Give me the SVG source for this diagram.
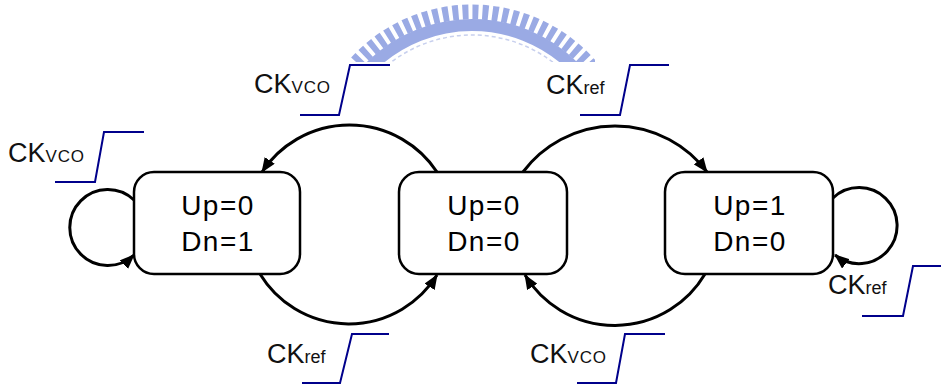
<svg xmlns="http://www.w3.org/2000/svg" width="941" height="385" viewBox="0 0 941 385">
<style>
.box{fill:#fff;stroke:#000;stroke-width:2.5}
.st{font-family:"Liberation Sans",Arial,sans-serif;font-size:28px;fill:#000;text-anchor:middle;letter-spacing:1.5px}
.lb{font-family:"Liberation Sans",Arial,sans-serif;font-size:27px;fill:#111}
.sv{font-size:17px;letter-spacing:0.8px}
.sr{font-size:18px}
.edge{fill:none;stroke:#000;stroke-width:3;marker-end:url(#ah)}
.wave{fill:none;stroke:#00008b;stroke-width:2}
</style>
<defs>
<marker id="ah" markerWidth="16" markerHeight="12" refX="14" refY="6" orient="auto" markerUnits="userSpaceOnUse">
<path d="M0,0 L15,6 L0,12 Z" fill="#000"/>
</marker>
<clipPath id="wm"><rect x="350" y="0" width="245" height="62"/></clipPath>
</defs>
<g id="watermark" clip-path="url(#wm)" fill="none">
<circle cx="472" cy="169" r="157" stroke="#9aaae4" stroke-width="15" stroke-dasharray="6 4"/>
<circle cx="472" cy="169" r="144" stroke="#9aaae4" stroke-width="12"/>
<circle cx="472" cy="169" r="134" stroke="#c8d0ee" stroke-width="1.5" stroke-dasharray="4 3"/>
</g>
<g id="edges">
<path class="edge" d="M437,172 A105,105 0 0 0 262,172"/>
<path class="edge" d="M523,172 A115,115 0 0 1 707,172"/>
<path class="edge" d="M260,274 A104,104 0 0 0 437,275"/>
<path class="edge" d="M705,274 A105,105 0 0 1 525,275"/>
<path class="edge" d="M134,200 A38,38 0 1 0 134,255"/>
<path class="edge" d="M833,198 A38,38 0 1 1 835,255"/>
</g>
<g id="state_up0_dn1">
<rect class="box" x="134" y="172" width="166" height="102" rx="20"/>
<text class="st" x="218" y="215">Up=0</text>
<text class="st" x="218" y="251">Dn=1</text>
</g>
<g id="state_up0_dn0">
<rect class="box" x="399" y="172" width="168" height="102" rx="20"/>
<text class="st" x="484" y="215">Up=0</text>
<text class="st" x="484" y="251">Dn=0</text>
</g>
<g id="state_up1_dn0">
<rect class="box" x="665" y="172" width="168" height="102" rx="20"/>
<text class="st" x="750" y="215">Up=1</text>
<text class="st" x="750" y="251">Dn=0</text>
</g>
<g id="labels">
<text class="lb" x="254" y="93">CK<tspan class="sv">VCO</tspan></text>
<path class="wave" d="M300,115 H339 L350,65 H390"/>
<text class="lb" x="8" y="162">CK<tspan class="sv">VCO</tspan></text>
<path class="wave" d="M55,182 H95 L104,132 H144"/>
<text class="lb" x="546" y="94">CK<tspan class="sr">ref</tspan></text>
<path class="wave" d="M580,115 H620 L630,65 H669"/>
<text class="lb" x="267" y="363">CK<tspan class="sr">ref</tspan></text>
<path class="wave" d="M302,383 H340 L352,334 H389"/>
<text class="lb" x="530" y="363">CK<tspan class="sv">VCO</tspan></text>
<path class="wave" d="M577,383 H616 L625,334 H665"/>
<text class="lb" x="828" y="294">CK<tspan class="sr">ref</tspan></text>
<path class="wave" d="M862,316 H903 L913,266 H941"/>
</g>
</svg>
